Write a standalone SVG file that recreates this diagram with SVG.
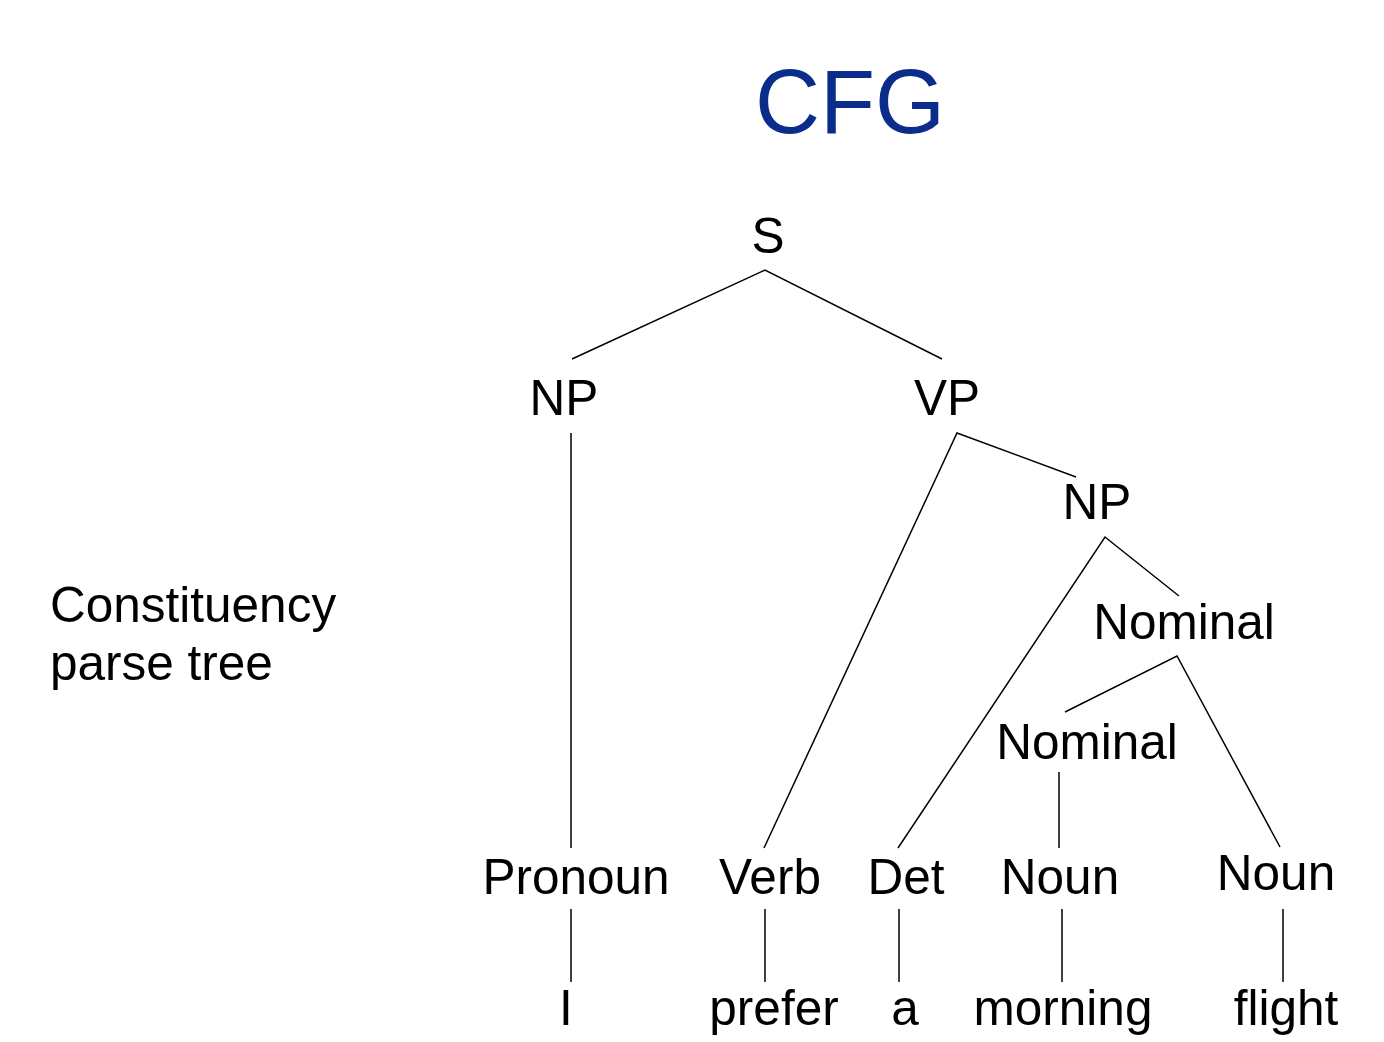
<svg xmlns="http://www.w3.org/2000/svg" width="1384" height="1042" viewBox="0 0 1384 1042">
<style>
text{font-family:"Liberation Sans",Arial,sans-serif;fill:#000}
.n{font-size:49.5px;text-anchor:middle}
.t{font-size:90px;fill:#0a2d8c;text-anchor:middle}
.c{stroke:#000;stroke-width:1.5;fill:none}
</style>
<rect width="1384" height="1042" fill="#fff"/>
<text class="t" x="850" y="133">CFG</text>
<g id="caption"><text style="font-size:49.5px" x="50" y="622">Constituency</text><text style="font-size:49.5px" x="50" y="680">parse tree</text></g>
<g id="connectors" class="c">
<polyline points="572,359 765,270 942,359"/>
<line x1="571" y1="433" x2="571" y2="848"/>
<polyline points="764,848 957,433 1076,477"/>
<polyline points="898,848 1105,537 1179,596"/>
<polyline points="1065,712 1177,656 1280,847"/>
<line x1="1059" y1="772" x2="1059" y2="848"/>
<line x1="571" y1="909" x2="571" y2="982"/>
<line x1="765" y1="909" x2="765" y2="982"/>
<line x1="899" y1="909" x2="899" y2="982"/>
<line x1="1062" y1="909" x2="1062" y2="982"/>
<line x1="1283" y1="909" x2="1283" y2="982"/>
</g>
<g id="S"><text class="n" x="768" y="253">S</text></g>
<g id="NP1"><text class="n" x="564" y="415">NP</text></g>
<g id="VP"><text class="n" x="947" y="415">VP</text></g>
<g id="NP2"><text class="n" x="1097" y="519">NP</text></g>
<g id="Nominal1"><text class="n" x="1184" y="639">Nominal</text></g>
<g id="Nominal2"><text class="n" x="1087" y="759">Nominal</text></g>
<g id="Pronoun"><text class="n" x="576" y="894">Pronoun</text></g>
<g id="Verb"><text class="n" x="770" y="894">Verb</text></g>
<g id="Det"><text class="n" x="906" y="894">Det</text></g>
<g id="Noun1"><text class="n" x="1060" y="894">Noun</text></g>
<g id="Noun2"><text class="n" x="1276" y="890">Noun</text></g>
<g id="w_I"><text class="n" x="566" y="1025">I</text></g>
<g id="w_prefer"><text class="n" x="774" y="1025">prefer</text></g>
<g id="w_a"><text class="n" x="905" y="1025">a</text></g>
<g id="w_morning"><text class="n" x="1063" y="1025">morning</text></g>
<g id="w_flight"><text class="n" x="1286" y="1025">flight</text></g>
</svg>
